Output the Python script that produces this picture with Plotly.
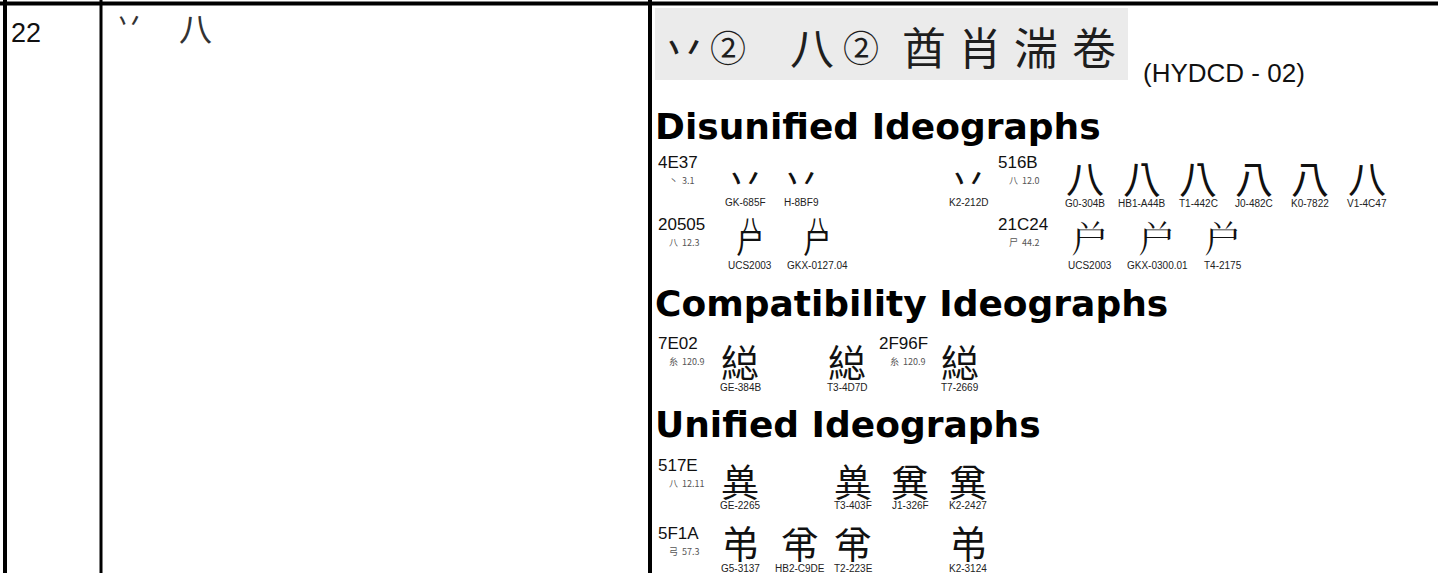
import plotly.graph_objects as go

# ---------------- data ----------------
ROW_NUMBER = "22"
RADICAL_STROKE_CHARS = ["丷", "八"]
HYDCD_CHARS = ["丷", "②", "八", "②", "酋", "肖", "湍", "卷"]
HYDCD_REF = "(HYDCD - 02)"
SECTION_TITLES = ["Disunified Ideographs", "Compatibility Ideographs", "Unified Ideographs"]

CODES = ["4E37", "516B", "20505", "21C24", "7E02", "2F96F", "517E", "5F1A"]
CHARS = ["丷", "八", "\U00020505", "\U00021C24", "縂", "\U0002F96F", "兾", "弚"]
RADICALS = ["丶", "八", "八", "尸", "糸", "糸", "八", "弓"]
STROKES = ["3.1", "12.0", "12.3", "44.2", "120.9", "120.9", "12.11", "57.3"]
SOURCES = [
    ["GK-685F", "H-8BF9", "K2-212D"],
    ["G0-304B", "HB1-A44B", "T1-442C", "J0-482C", "K0-7822", "V1-4C47"],
    ["UCS2003", "GKX-0127.04"],
    ["UCS2003", "GKX-0300.01", "T4-2175"],
    ["GE-384B", "T3-4D7D"],
    ["T7-2669"],
    ["GE-2265", "T3-403F", "J1-326F", "K2-2427"],
    ["G5-3137", "HB2-C9DE", "T2-223E", "K2-3124"],
]
# installed fonts lack U+20505: draw it from its two components (top, bottom)
COMPONENTS = {"\U00020505": ("八", "尸")}

# ---------------- layout (positions, not data) ----------------
W, H = 1438, 573
CODE_X = [656, 996, 656, 996, 656, 877, 656, 656]
CODE_Y = [162, 162, 224, 224, 343, 343, 465, 533]
GLYPH_Y = [176, 176, 236, 236, 360, 360, 479, 541]
LABEL_Y = [202, 203, 265, 265, 387, 387, 505, 568]
GLYPH_X = [
    [745, 801, 968],
    [1085, 1142, 1198, 1254, 1310, 1367],
    [750, 817],
    [1090, 1157, 1223],
    [740, 847],
    [960],
    [740, 853, 910, 968],
    [740, 800, 853, 968],
]
SECTION_Y = [126, 303, 424]
HYDCD_X = [684, 728, 812, 861, 924, 980, 1036, 1094]
COL2_X = [129, 195]

LATIN = "Liberation Sans"
NARROW = "Liberation Sans Narrow, Liberation Sans"
CJK_BY_PREFIX = {"G": "Noto Sans CJK SC", "H": "Noto Sans CJK TC", "T": "Noto Sans CJK TC",
                 "J": "Noto Sans CJK JP", "K": "Noto Sans CJK KR", "V": "Noto Sans CJK SC",
                 "U": "Noto Sans CJK SC"}

fig = go.Figure()
ann = []

def add(x, y, text, size, family=LATIN, color="#000", xanchor="left", yanchor="middle", weight=None):
    font = dict(size=size, family=family, color=color)
    if weight is not None:
        font["weight"] = weight
    ann.append(dict(x=x, y=y, xref="x", yref="y", text=text, showarrow=False,
                    xanchor=xanchor, yanchor=yanchor, font=font))

# column 1 and 2
add(9, 33, ROW_NUMBER, 27, color="#111")
add(COL2_X[0], 20, RADICAL_STROKE_CHARS[0], 28, family="Noto Sans CJK SC", color="#333", xanchor="center")
add(COL2_X[1], 27, RADICAL_STROKE_CHARS[1], 33, family="Noto Sans CJK SC", color="#333", xanchor="center")

# HYDCD header image area
for ch, x in zip(HYDCD_CHARS, HYDCD_X):
    add(x, 46, ch, 44 if ch != "②" else 36, family="Noto Sans CJK SC", color="#1e1e1e", xanchor="center")
add(1141, 73, HYDCD_REF, 26, color="#111")

# section titles
for t, y in zip(SECTION_TITLES, SECTION_Y):
    add(653, y, t, 36, family="DejaVu Sans", weight="bold", color="#000")

# entries
for i, code in enumerate(CODES):
    add(CODE_X[i], CODE_Y[i], code, 17, color="#111")
    add(CODE_X[i] + 11, CODE_Y[i] + 18, RADICALS[i] + "  " + STROKES[i], 9,
        family="Noto Sans CJK SC", color="#555")
    for src, gx in zip(SOURCES[i], GLYPH_X[i]):
        fam = CJK_BY_PREFIX.get(src[0], "Noto Sans CJK SC")
        if CHARS[i] in COMPONENTS:
            top, bottom = COMPONENTS[CHARS[i]]
            add(gx, GLYPH_Y[i] - 12, top, 19, family=fam, color="#111", xanchor="center")
            add(gx, GLYPH_Y[i] + 6, bottom, 28, family=fam, color="#111", xanchor="center")
        else:
            add(gx, GLYPH_Y[i], CHARS[i], 38, family=fam, color="#111", xanchor="center")
        add(gx, LABEL_Y[i], src, 10, family=NARROW, color="#222", xanchor="center")

shapes = [
    dict(type="line", x0=0, x1=W, y0=3.5, y1=3.5, line=dict(color="#000", width=4)),
    dict(type="line", x0=5, x1=5, y0=0, y1=H, line=dict(color="#000", width=4)),
    dict(type="line", x0=101, x1=101, y0=0, y1=H, line=dict(color="#000", width=3)),
    dict(type="line", x0=650, x1=650, y0=0, y1=H, line=dict(color="#000", width=4)),
    dict(type="rect", x0=655, x1=1128, y0=8, y1=80, fillcolor="#ebebeb", line=dict(width=0), layer="below"),
]

fig.update_layout(
    width=W, height=H, margin=dict(l=0, r=0, t=0, b=0),
    paper_bgcolor="white", plot_bgcolor="white",
    xaxis=dict(range=[0, W], visible=False, fixedrange=True),
    yaxis=dict(range=[H, 0], visible=False, fixedrange=True),
    annotations=ann, shapes=shapes, showlegend=False,
)
fig.write_html("out.html", config={"displayModeBar": False},
               post_script="document.body.style.margin='0';document.body.style.overflow='hidden';")
